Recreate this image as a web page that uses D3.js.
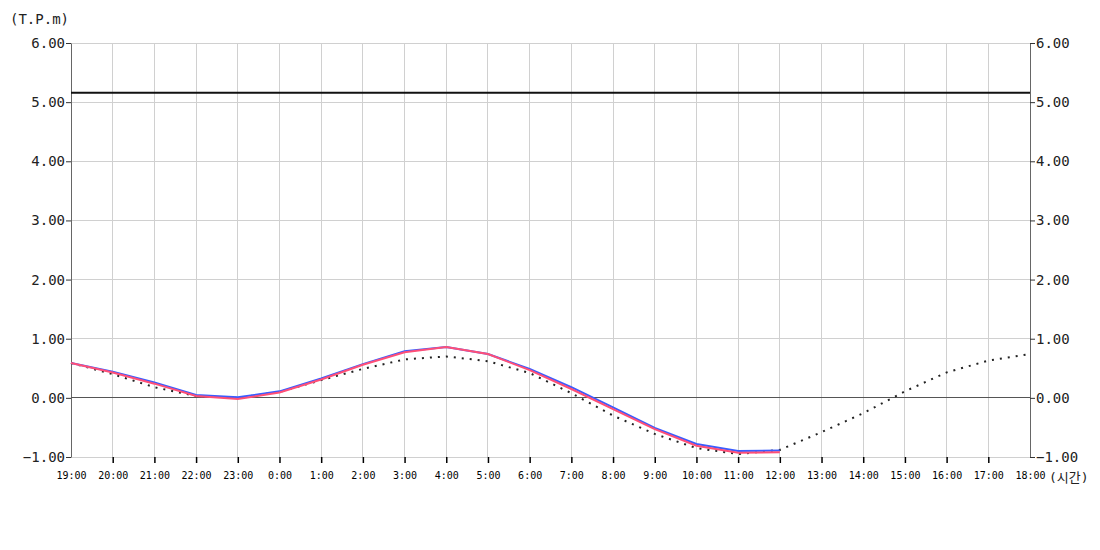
<!DOCTYPE html>
<html><head><meta charset="utf-8">
<script src="https://cdn.jsdelivr.net/npm/d3@7"></script>
<style>body{margin:0;background:#fff;} svg{display:block;}</style>
</head><body><div id="chart"></div>
<script>
const hours = ["19:00","20:00","21:00","22:00","23:00","0:00","1:00","2:00","3:00","4:00","5:00","6:00","7:00","8:00","9:00","10:00","11:00","12:00","13:00","14:00","15:00","16:00","17:00","18:00"];
const yTicks = [-1,0,1,2,3,4,5,6];
const observed = [0.59,0.44,0.26,0.05,0.01,0.11,0.33,0.57,0.79,0.86,0.74,0.49,0.18,-0.16,-0.51,-0.78,-0.90,-0.89];
const corrected = [0.59,0.43,0.24,0.03,-0.02,0.09,0.31,0.56,0.77,0.86,0.74,0.47,0.15,-0.19,-0.53,-0.81,-0.93,-0.92];
const predicted = [0.59,0.40,0.18,0.03,0.00,0.10,0.30,0.49,0.65,0.70,0.62,0.42,0.08,-0.30,-0.61,-0.85,-0.95,-0.88,-0.58,-0.26,0.11,0.43,0.63,0.74];
const warningLevel = 5.16;

const W=1100,H=550, m={left:71,right:70,top:43,bottom:93};
const svg=d3.select("#chart").append("svg").attr("width",W).attr("height",H);
const x=d3.scalePoint().domain(hours).range([m.left,W-m.right]);
const y=d3.scaleLinear().domain([-1,6]).range([H-m.bottom,m.top]);
const mono="'DejaVu Sans Mono', monospace";

// grid
svg.append("g").selectAll("line").data(hours).join("line")
  .attr("x1",d=>x(d)).attr("x2",d=>x(d)).attr("y1",y(6)).attr("y2",y(-1))
  .attr("stroke","#d0d0d0").attr("stroke-width",1).attr("shape-rendering","crispEdges");
svg.append("g").selectAll("line").data(yTicks).join("line")
  .attr("x1",m.left).attr("x2",W-m.right).attr("y1",d=>y(d)).attr("y2",d=>y(d))
  .attr("stroke","#d0d0d0").attr("stroke-width",1).attr("shape-rendering","crispEdges");

// axes
const yl=d3.axisLeft(y).tickValues(yTicks).tickFormat(d3.format(".2f")).tickSize(5).tickSizeOuter(0);
const yr=d3.axisRight(y).tickValues(yTicks).tickFormat(d3.format(".2f")).tickSize(5).tickSizeOuter(0);
function styleY(g){g.select(".domain").attr("stroke","#666");g.selectAll(".tick line").attr("stroke","#333");
  g.selectAll("text").attr("font-family",mono).attr("font-size",14).attr("fill","#222");}
svg.append("g").attr("transform",`translate(${m.left},0)`).call(yl).call(styleY).call(g=>g.selectAll("text").attr("x",-6));
svg.append("g").attr("transform",`translate(${W-m.right},0)`).call(yr).call(styleY).call(g=>g.selectAll("text").attr("x",6));

const xa=d3.axisBottom(x).tickSize(6).tickSizeOuter(0);
svg.append("g").attr("transform",`translate(0,${y(-1)})`).call(xa).call(g=>{
  g.select(".domain").remove();
  g.selectAll(".tick line").attr("stroke","#000").attr("stroke-width",1.5)
   .attr("display",(d,i)=> (i===0||i===hours.length-1)?"none":null);
  g.selectAll("text").attr("font-family",mono).attr("font-size",10).attr("fill","#000").attr("y",15);
});

// zero line
svg.append("line").attr("x1",m.left).attr("x2",W-m.right).attr("y1",y(0)).attr("y2",y(0))
  .attr("stroke","#555").attr("stroke-width",1).attr("shape-rendering","crispEdges");
// warning level
svg.append("line").attr("x1",m.left).attr("x2",W-m.right).attr("y1",y(warningLevel)).attr("y2",y(warningLevel))
  .attr("stroke","#111").attr("stroke-width",2);

const line=d3.line().x((d,i)=>x(hours[i])).y(d=>y(d));
svg.append("path").datum(predicted).attr("d",line).attr("fill","none").attr("stroke","#222")
  .attr("stroke-width",2).attr("stroke-dasharray","2,6");
svg.append("path").datum(observed).attr("d",line).attr("fill","none").attr("stroke","#3a5cff").attr("stroke-width",2);
svg.append("path").datum(corrected).attr("d",line).attr("fill","none").attr("stroke","#ff4f77").attr("stroke-width",2);

svg.append("text").attr("x",10).attr("y",24).text("(T.P.m)").attr("font-family",mono).attr("font-size",14).attr("fill","#222");
svg.append("text").attr("x",1049).attr("y",482).text("(시간)").attr("font-family","'DejaVu Sans Mono','Noto Sans CJK KR',monospace").attr("font-size",13).attr("fill","#222");
</script></body></html>
